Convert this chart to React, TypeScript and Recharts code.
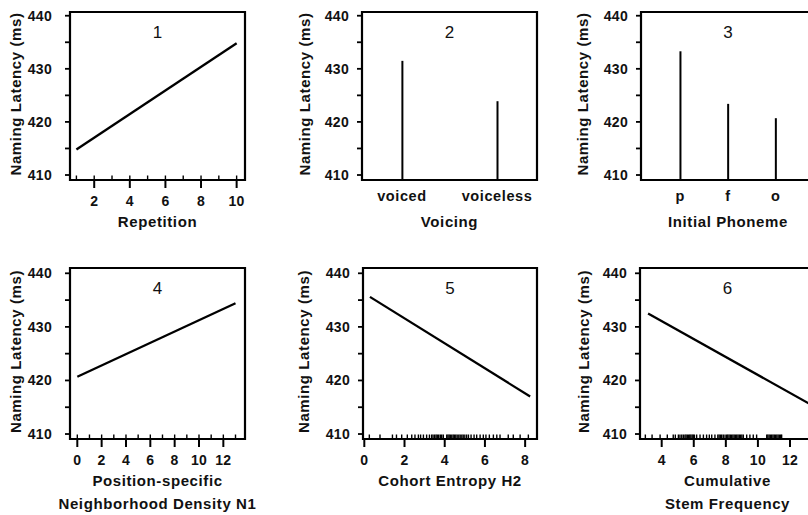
import React from "react";
import { Bar, ComposedChart, Label, Line, ReferenceArea, Scatter, XAxis, YAxis } from "recharts";

const FONT = "'Liberation Sans', Arial, sans-serif";

const latencyTicks = [410, 415, 420, 425, 430, 435, 440];

const repetition = [1, 10];
const repetitionFit = [414.8, 434.8];
const repetitionRug = [1, 2, 3, 4, 5, 6, 7, 8, 9, 10];

const voicingLevels = ["voiced", "voiceless"];
const voicingEffect = [431.5, 423.9];

const phonemeLevels = ["p", "f", "o"];
const phonemeEffect = [433.3, 423.4, 420.7];

const densityN1 = [0, 13];
const densityFit = [420.7, 434.4];
const densityRug = [0, 1, 2, 3, 4, 5, 6, 7, 8, 9, 10, 11, 12, 13];

const entropyH2 = [0.28, 8.25];
const entropyFit = [435.6, 417.0];
const entropyRug = [
  0.25, 0.78, 1.4, 1.6, 1.86, 2.14, 2.36, 2.52, 2.69, 2.8, 2.94, 3.1, 3.24, 3.35, 3.42, 3.5, 3.57,
  3.63, 3.7, 3.78, 3.85, 3.93, 4.1, 4.16, 4.22, 4.28, 4.35, 4.42, 4.48, 4.55, 4.62, 4.7, 4.77, 4.85,
  4.92, 5.0, 5.09, 5.18, 5.31, 5.46, 5.59, 5.76, 5.92, 6.05, 6.22, 6.42, 6.59, 6.75, 7.16, 7.41, 7.75,
  8.16,
];

const stemFrequency = [3.15, 13.3];
const stemFit = [432.5, 415.5];
const stemRug = [
  2.98, 3.4, 3.9, 4.35, 4.72, 4.85, 5.04, 5.14, 5.25, 5.35, 5.45, 5.52, 5.6, 5.68, 5.75, 5.82, 5.9,
  5.97, 6.04, 6.18, 6.39, 6.6, 6.8, 6.97, 7.12, 7.32, 7.5, 7.58, 7.66, 7.74, 7.84, 7.95, 8.05, 8.12,
  8.2, 8.28, 8.36, 8.44, 8.52, 8.6, 8.68, 8.76, 8.84, 8.92, 9.0, 9.09, 9.3, 9.5, 9.71, 9.92, 10.55,
  10.62, 10.7, 10.78, 10.86, 10.94, 11.02, 11.1, 11.18, 11.26, 11.34, 11.42, 11.48,
];

const pairs = (xs: number[], ys: number[]) => xs.map((x, i) => ({ x, y: ys[i] }));
const levels = (ys: number[]) => ys.map((y, i) => ({ x: i + 1, y }));

const YW = 75;
const XH = 80;
const TOP = 3;
const RIGHT = 40;

const titleStyle = { fontFamily: FONT, fontSize: 15, fontWeight: 700, letterSpacing: 0.6, fill: "#111" };

type PanelProps = {
  left: number;
  top: number;
  boxW: number;
  boxH: number;
  num: string;
  data: { x: number; y: number }[];
  kind: "line" | "stem";
  rug?: number[];
  xDomain: [number, number];
  yDomain: [number, number];
  xTicks: number[];
  xNames?: string[];
  xTitle: string[];
  yTickMargin: number;
  yTitleOffset: number;
};

function RugTick(p: any) {
  return <line x1={p.cx} x2={p.cx} y1={p.cy} y2={p.cy - 4.5} stroke="#000" strokeWidth={1.4} />;
}

function Panel(props: PanelProps) {
  const { left, top, boxW, boxH, num, data, kind, rug, xDomain, yDomain, xTicks, xNames, xTitle } = props;
  const categorical = !!xNames;

  const xTitleContent = (p: any) => {
    const vb = p.viewBox;
    const cx = vb.x + vb.width / 2;
    return (
      <text x={cx} y={vb.y + 47} textAnchor="middle" style={titleStyle}>
        {xTitle.map((line, i) => (
          <tspan key={i} x={cx} dy={i === 0 ? 0 : 23.3}>
            {line}
          </tspan>
        ))}
      </text>
    );
  };

  const yTitleContent = (p: any) => {
    const vb = p.viewBox;
    const cx = vb.x + vb.width - props.yTitleOffset;
    const cy = vb.y + vb.height / 2 - 2;
    return (
      <text
        x={cx}
        y={cy}
        transform={`rotate(-90 ${cx} ${cy})`}
        textAnchor="middle"
        dominantBaseline="central"
        style={titleStyle}
      >
        Naming Latency (ms)
      </text>
    );
  };

  return (
    <div style={{ position: "absolute", left: left - YW, top: top - TOP }}>
      <ComposedChart
        width={YW + boxW + RIGHT}
        height={TOP + boxH + XH}
        data={data}
        margin={{ top: TOP, right: RIGHT, bottom: 0, left: 0 }}
      >
        <XAxis
          type="number"
          dataKey="x"
          domain={xDomain}
          allowDataOverflow
          ticks={xTicks}
          interval={0}
          tickFormatter={(v: number) => (xNames ? xNames[v - 1] ?? "" : String(v))}
          axisLine={false}
          tickLine={categorical ? false : { stroke: "#000", strokeWidth: 2 }}
          tickSize={categorical ? 2 : 8}
          tickMargin={categorical ? 9 : 8}
          height={XH}
          tick={{
            fill: "#111",
            fontFamily: FONT,
            fontWeight: 700,
            fontSize: categorical ? 14.5 : 14,
            letterSpacing: categorical ? 0.6 : 0.3,
          }}
          label={{ content: xTitleContent }}
        />
        <YAxis
          type="number"
          domain={yDomain}
          allowDataOverflow
          ticks={latencyTicks}
          interval={0}
          tickFormatter={(v: number) => (v % 10 === 0 ? String(v) : "")}
          axisLine={false}
          tickLine={{ stroke: "#000", strokeWidth: 1.8 }}
          tickSize={5}
          tickMargin={props.yTickMargin}
          width={YW}
          tick={{ fill: "#111", fontFamily: FONT, fontWeight: 700, fontSize: 14, letterSpacing: 0.3 }}
          label={{ content: yTitleContent }}
        />
        {kind === "line" ? (
          <Line dataKey="y" type="linear" stroke="#000" strokeWidth={2.3} dot={false} isAnimationActive={false} />
        ) : (
          <Bar dataKey="y" barSize={2} fill="#000" isAnimationActive={false} />
        )}
        {rug ? (
          <Scatter
            data={rug.map((x) => ({ x, y: yDomain[0] }))}
            dataKey="y"
            shape={RugTick}
            isAnimationActive={false}
          />
        ) : null}
        <ReferenceArea
          x1={xDomain[0]}
          x2={xDomain[1]}
          y1={yDomain[0]}
          y2={yDomain[1]}
          fill="none"
          stroke="#000"
          strokeWidth={2.2}
          ifOverflow="visible"
        >
          <Label
            value={num}
            position="insideTop"
            offset={14}
            style={{ fontFamily: FONT, fontSize: 17, fill: "#111" }}
          />
        </ReferenceArea>
      </ComposedChart>
    </div>
  );
}

const topY: [number, number] = [409.06, 440.7];
const bottomY: [number, number] = [409.07, 440.99];

export default function App() {
  return (
    <div
      style={{
        position: "absolute",
        left: 0,
        top: 0,
        width: 808,
        height: 515,
        overflow: "hidden",
        background: "#fff",
      }}
    >
      <Panel
        left={70}
        top={12}
        boxW={175}
        boxH={168}
        num="1"
        data={pairs(repetition, repetitionFit)}
        kind="line"
        rug={repetitionRug}
        xDomain={[0.64, 10.47]}
        yDomain={topY}
        xTicks={[2, 4, 6, 8, 10]}
        xTitle={["Repetition"]}
        yTickMargin={13}
        yTitleOffset={55}
      />
      <Panel
        left={362}
        top={12}
        boxW={175}
        boxH={168}
        num="2"
        data={levels(voicingEffect)}
        kind="stem"
        xDomain={[0.58, 2.42]}
        yDomain={topY}
        xTicks={[1, 2]}
        xNames={voicingLevels}
        xTitle={["Voicing"]}
        yTickMargin={8}
        yTitleOffset={58}
      />
      <Panel
        left={641}
        top={12}
        boxW={174}
        boxH={168}
        num="3"
        data={levels(phonemeEffect)}
        kind="stem"
        xDomain={[0.176, 3.824]}
        yDomain={topY}
        xTicks={[1, 2, 3]}
        xNames={phonemeLevels}
        xTitle={["Initial Phoneme"]}
        yTickMargin={8}
        yTitleOffset={59}
      />
      <Panel
        left={70}
        top={268}
        boxW={175}
        boxH={171}
        num="4"
        data={pairs(densityN1, densityFit)}
        kind="line"
        rug={densityRug}
        xDomain={[-0.6, 13.78]}
        yDomain={bottomY}
        xTicks={[0, 2, 4, 6, 8, 10, 12]}
        xTitle={["Position-specific", "Neighborhood Density N1"]}
        yTickMargin={13}
        yTitleOffset={55}
      />
      <Panel
        left={363}
        top={268}
        boxW={174}
        boxH={171}
        num="5"
        data={pairs(entropyH2, entropyFit)}
        kind="line"
        rug={entropyRug}
        xDomain={[-0.065, 8.59]}
        yDomain={bottomY}
        xTicks={[0, 2, 4, 6, 8]}
        xTitle={["Cohort Entropy H2"]}
        yTickMargin={8}
        yTitleOffset={60}
      />
      <Panel
        left={640}
        top={268}
        boxW={175}
        boxH={171}
        num="6"
        data={pairs(stemFrequency, stemFit)}
        kind="line"
        rug={stemRug}
        xDomain={[2.647, 13.56]}
        yDomain={bottomY}
        xTicks={[4, 6, 8, 10, 12]}
        xTitle={["Cumulative", "Stem Frequency"]}
        yTickMargin={8}
        yTitleOffset={57}
      />
    </div>
  );
}
